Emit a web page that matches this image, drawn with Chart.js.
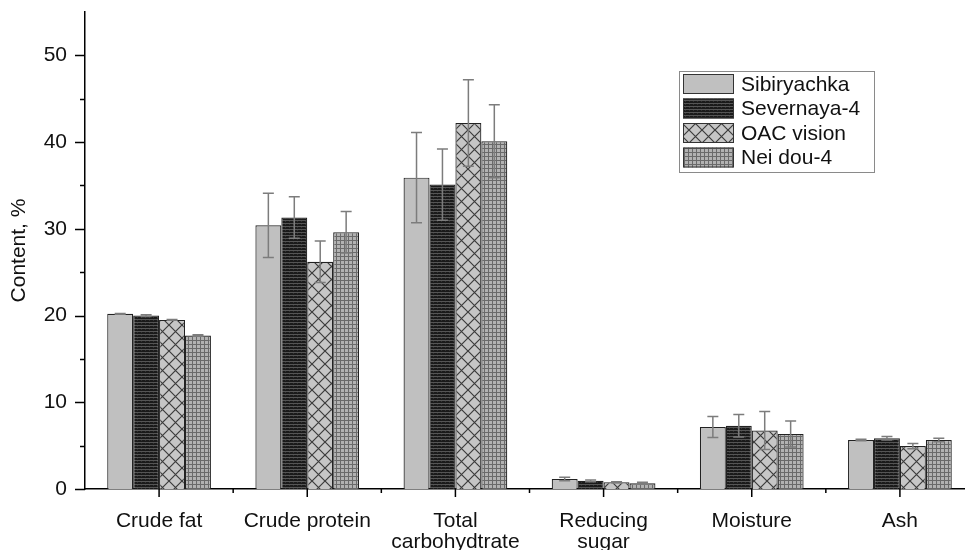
<!DOCTYPE html>
<html>
<head>
<meta charset="utf-8">
<script src="https://cdn.jsdelivr.net/npm/chart.js@4"></script>
<style>
  html, body { margin: 0; padding: 0; background: #fff; overflow: hidden; }
  #wrap { width: 980px; height: 550px; position: relative; }
</style>
</head>
<body>
<div id="wrap"><canvas id="chart"></canvas></div>
<script>
// Proximate composition of four soybean varieties, mean ± SD.
const categories = ['Crude fat', 'Crude protein', ['Total', 'carbohydtrate'], ['Reducing', 'sugar'], 'Moisture', 'Ash'];
const seriesNames = ['Sibiryachka', 'Severnaya-4', 'OAC vision', 'Nei dou-4'];

const sibiryachka    = [20.2, 30.4, 35.9, 1.15, 7.15, 5.65];
const sibiryachkaErr = [0.05, 3.7, 5.2, 0.2, 1.2, 0.1];
const severnaya      = [20.0, 31.3, 35.1, 0.95, 7.3, 5.85];
const severnayaErr   = [0.1, 2.4, 4.1, 0.1, 1.3, 0.2];
const oacVision      = [19.5, 26.2, 42.2, 0.78, 6.75, 4.95];
const oacVisionErr   = [0.05, 2.4, 5.0, 0.05, 2.2, 0.3];
const neiDou         = [17.7, 29.6, 40.1, 0.67, 6.35, 5.65];
const neiDouErr      = [0.1, 2.4, 4.2, 0.1, 1.5, 0.2];

const yTicks = [0, 10, 20, 30, 40, 50];

const FONT = '"Liberation Sans", Arial, sans-serif';

// --- fill patterns ---------------------------------------------------------
function makeTile(w, h, draw) {
  const c = document.createElement('canvas');
  c.width = w; c.height = h;
  const g = c.getContext('2d');
  draw(g, w, h);
  return document.getElementById('chart').getContext('2d').createPattern(c, 'repeat');
}

const plainGrey = '#c0c0c0';

const darkStripes = makeTile(4, 3, (g, w, h) => {
  g.fillStyle = '#1a1a1a'; g.fillRect(0, 0, w, h);
  g.fillStyle = '#555'; g.fillRect(0, 1, w, 1);
  g.fillStyle = '#333'; g.fillRect(1, 2, 1, 1);
});

const crossHatch = makeTile(13, 13, (g, w, h) => {
  g.fillStyle = '#c6c6c6'; g.fillRect(0, 0, w, h);
  g.strokeStyle = '#3c3c3c'; g.lineWidth = 1.2;
  g.beginPath();
  g.moveTo(-1, -1); g.lineTo(w + 1, h + 1);
  g.moveTo(w + 1, -1); g.lineTo(-1, h + 1);
  g.stroke();
});

const fineGrid = makeTile(4, 4, (g, w, h) => {
  g.fillStyle = '#b2b2b2'; g.fillRect(0, 0, w, h);
  g.fillStyle = '#6a6a6a';
  g.fillRect(0, 0, w, 1);
  g.fillRect(0, 0, 1, h);
});

const fills = [plainGrey, darkStripes, crossHatch, fineGrid];

// --- plugins ---------------------------------------------------------------
// Error bars, drawn on top of the bars using the y scale.
const errorBars = {
  id: 'errorBars',
  afterDatasetsDraw(chart) {
    const ctx = chart.ctx;
    const y = chart.scales.y;
    ctx.save();
    ctx.strokeStyle = '#7c7c7c';
    ctx.lineWidth = 1.5;
    chart.data.datasets.forEach((ds, i) => {
      chart.getDatasetMeta(i).data.forEach((bar, j) => {
        const v = ds.data[j], e = ds.errors[j];
        const top = y.getPixelForValue(v + e);
        const bot = y.getPixelForValue(v - e);
        const x = bar.x, cap = 5.5;
        ctx.beginPath();
        ctx.moveTo(x, top); ctx.lineTo(x, bot);
        ctx.moveTo(x - cap, top); ctx.lineTo(x + cap, top);
        ctx.moveTo(x - cap, bot); ctx.lineTo(x + cap, bot);
        ctx.stroke();
      });
    });
    ctx.restore();
  }
};

// Major / minor tick marks with different lengths (Chart.js uses one length).
const tickMarks = {
  id: 'tickMarks',
  afterDraw(chart) {
    const ctx = chart.ctx;
    const { x, y } = chart.scales;
    const area = chart.chartArea;
    ctx.save();
    ctx.strokeStyle = '#000';
    ctx.lineWidth = 1.5;
    ctx.beginPath();
    for (let v = 0; v <= 50; v += 5) {
      const py = Math.round(y.getPixelForValue(v)) + 0.5;
      const len = v % 10 === 0 ? 10 : 5;
      ctx.moveTo(area.left - len, py); ctx.lineTo(area.left, py);
    }
    const n = categories.length;
    for (let i = 0; i < n; i++) {
      const px = x.getPixelForValue(i);
      ctx.moveTo(px, area.bottom); ctx.lineTo(px, area.bottom + 8);
      if (i > 0) {
        const mid = (x.getPixelForValue(i - 1) + px) / 2;
        ctx.moveTo(mid, area.bottom); ctx.lineTo(mid, area.bottom + 4);
      }
    }
    ctx.stroke();
    ctx.restore();
  }
};

// Framed legend inside the plot, upper right.
const boxLegend = {
  id: 'boxLegend',
  afterDraw(chart) {
    const ctx = chart.ctx;
    const bx = 679, by = 71, bw = 195, bh = 101;
    ctx.save();
    ctx.fillStyle = '#fff';
    ctx.fillRect(bx, by, bw, bh);
    ctx.strokeStyle = '#8a8a8a';
    ctx.lineWidth = 1;
    ctx.strokeRect(bx + 0.5, by + 0.5, bw, bh);
    ctx.font = '21px ' + FONT;
    ctx.textBaseline = 'middle';
    chart.data.datasets.forEach((ds, i) => {
      const py = by + 3 + i * 24.5;
      ctx.fillStyle = ds.backgroundColor;
      ctx.fillRect(bx + 4, py, 51, 20);
      ctx.strokeStyle = '#333';
      ctx.strokeRect(bx + 4.5, py + 0.5, 50, 19);
      ctx.fillStyle = '#111';
      ctx.fillText(ds.label, bx + 62, py + 11);
    });
    ctx.restore();
  }
};

// --- chart -----------------------------------------------------------------
const values = [sibiryachka, severnaya, oacVision, neiDou];
const errors = [sibiryachkaErr, severnayaErr, oacVisionErr, neiDouErr];

new Chart(document.getElementById('chart'), {
  type: 'bar',
  data: {
    labels: categories,
    datasets: seriesNames.map((name, i) => ({
      label: name,
      data: values[i],
      errors: errors[i],
      backgroundColor: fills[i],
      borderColor: '#222',
      borderWidth: 1.2,
      borderSkipped: 'bottom',
      categoryPercentage: 0.70,
      barPercentage: 1.0,
    })),
  },
  options: {
    responsive: true,
    maintainAspectRatio: false,
    animation: false,
    layout: { padding: { top: 12, right: 6, left: 0, bottom: 0 } },
    plugins: {
      legend: { display: false },
      tooltip: { enabled: false },
    },
    scales: {
      x: {
        offset: true,
        grid: { display: false, drawTicks: true, tickLength: 8 },
        border: { display: true, color: '#000', width: 1.5 },
        ticks: {
          color: '#111',
          font: { family: FONT, size: 21, lineHeight: 1.0 },
          padding: 14,
          maxRotation: 0,
          autoSkip: false,
        },
        afterFit: s => { s.height = 61; },
      },
      y: {
        min: 0,
        max: 55,
        grid: { display: false, drawTicks: true, tickLength: 10 },
        border: { display: true, color: '#000', width: 1.5 },
        ticks: {
          stepSize: 5,
          autoSkip: false,
          color: '#111',
          font: { family: FONT, size: 21 },
          padding: 8,
          // unlabelled ticks get an empty array so they take no room
          callback: v => (yTicks.includes(v) ? String(v) : []),
        },
        title: {
          display: true,
          text: 'Content, %',
          color: '#111',
          font: { family: FONT, size: 21 },
          padding: { top: 7, bottom: 0 },
        },
        afterFit: s => { s.width = 85; },
      },
    },
  },
  plugins: [errorBars, tickMarks, boxLegend],
});
</script>
</body>
</html>
